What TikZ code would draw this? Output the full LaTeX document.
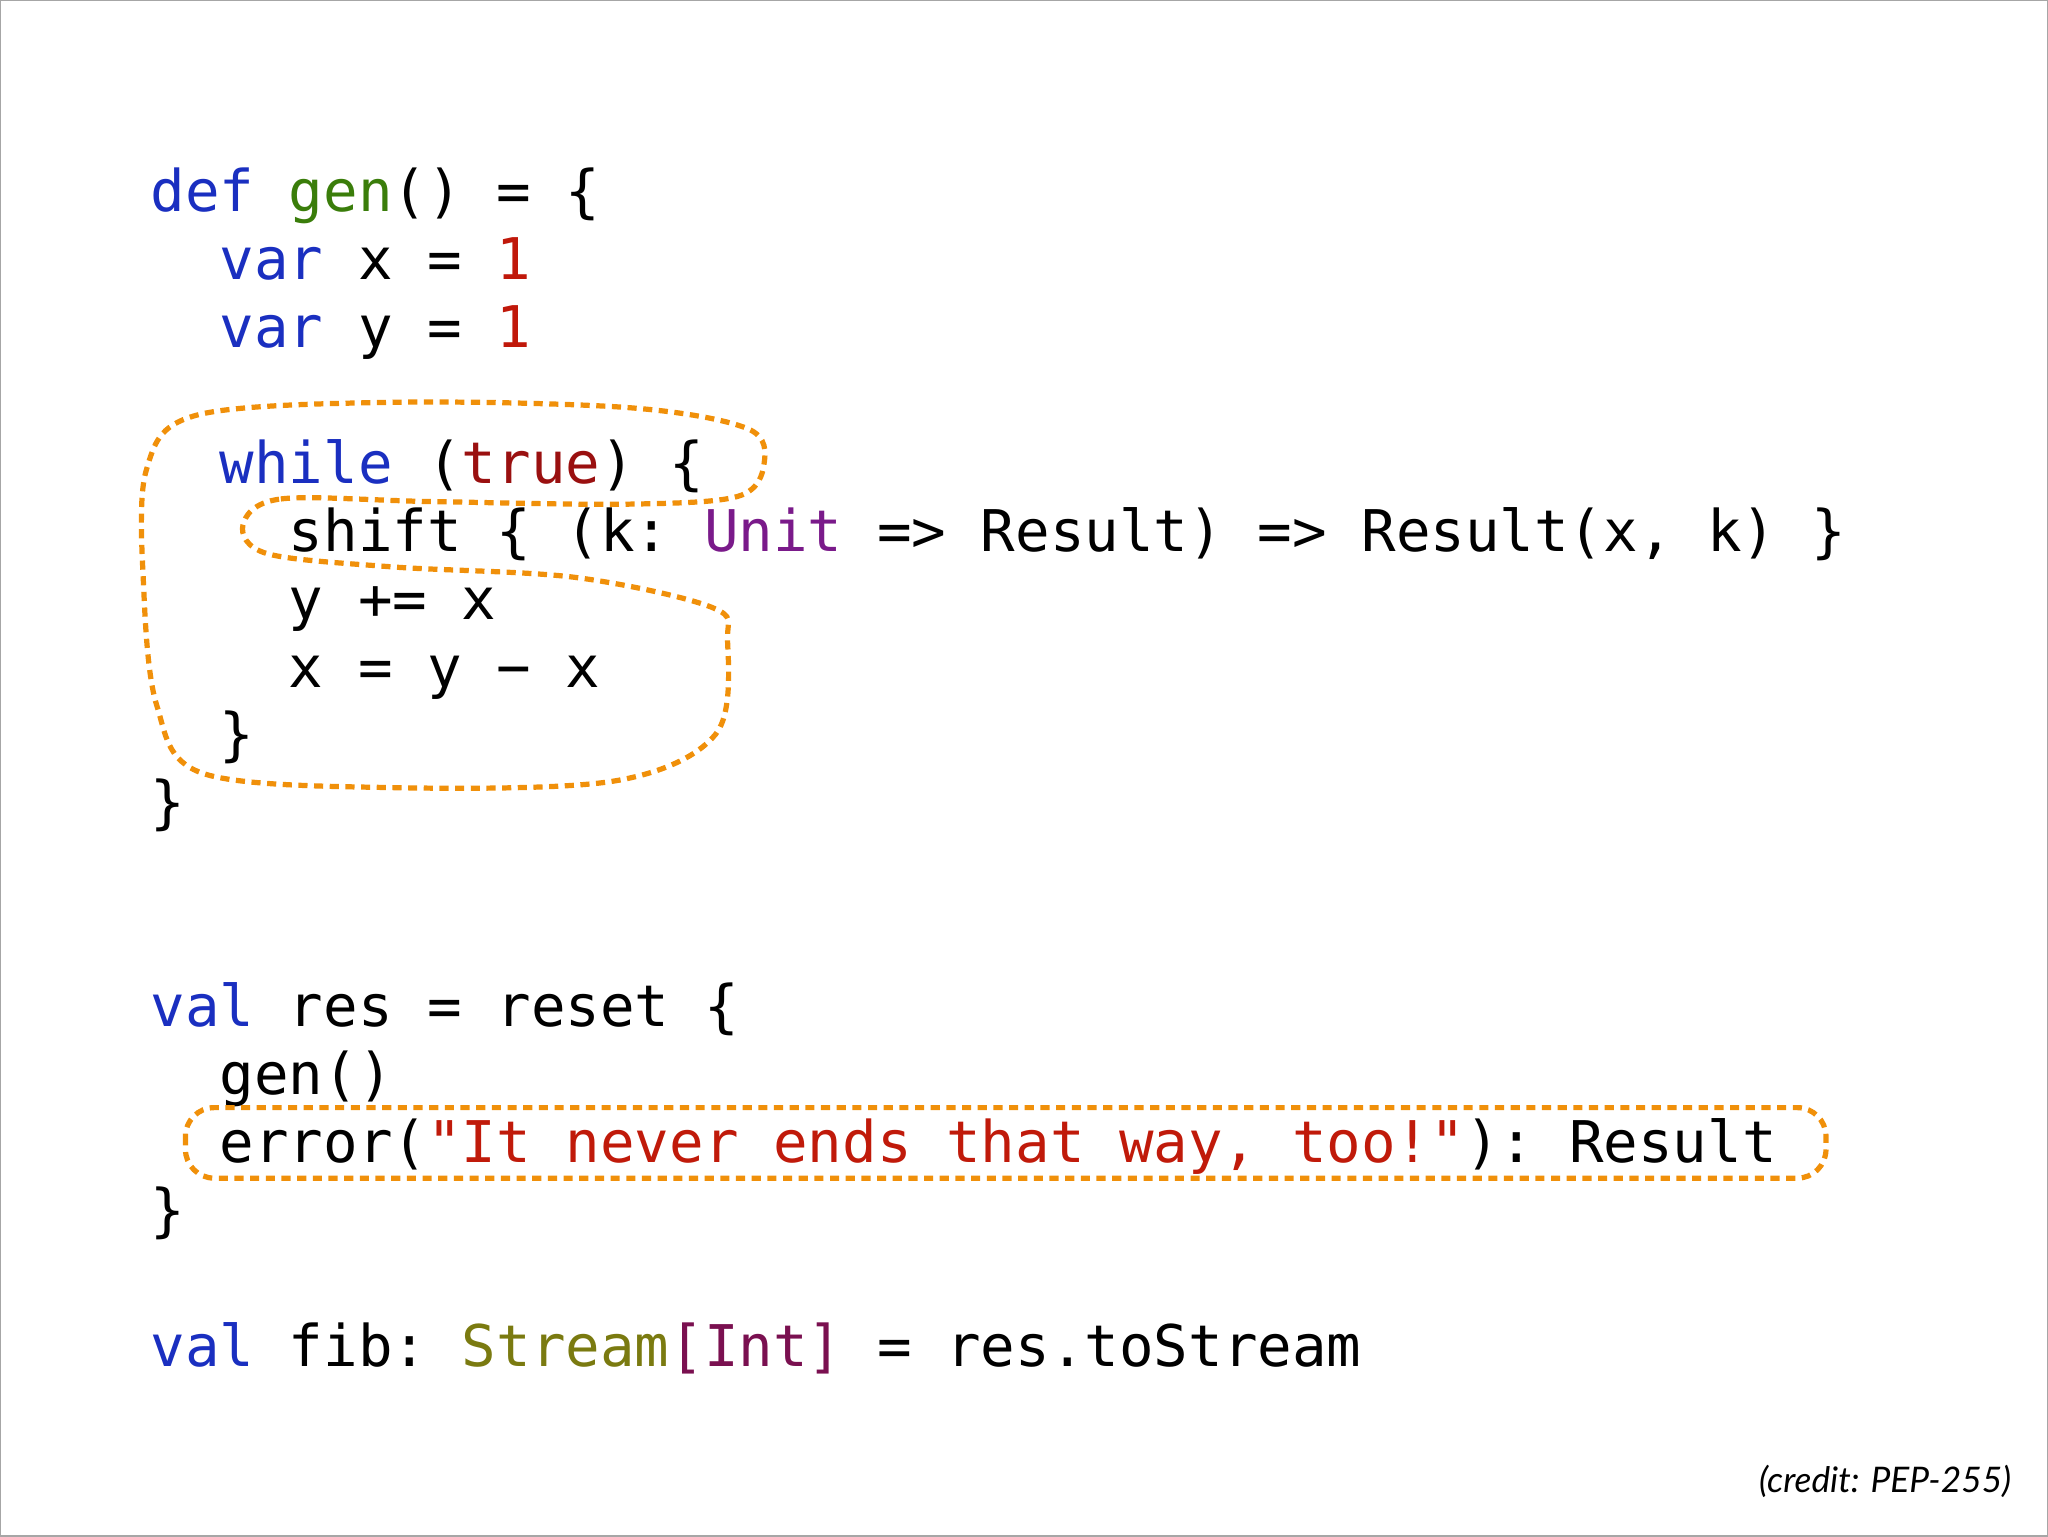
\documentclass[tikz,border=0pt]{standalone}
\usepackage{fontspec}
\setmonofont{DejaVu Sans Mono}
\newfontfamily\creditfont{Lato}
\definecolor{kw}{HTML}{1A2FC0}
\definecolor{fn}{HTML}{3A7D0A}
\definecolor{num}{HTML}{C0180A}
\definecolor{tru}{HTML}{9A1010}
\definecolor{typ}{HTML}{7A1A8A}
\definecolor{str}{HTML}{C01A0A}
\definecolor{olv}{HTML}{7A7A10}
\definecolor{mar}{HTML}{7A1050}
\definecolor{orng}{HTML}{F0900A}
\begin{document}
\begin{tikzpicture}[x=1pt,y=-1pt,
  code/.style={anchor=base west,inner sep=0pt,font=\fontsize{44}{52}\selectfont\ttfamily},
  hl/.style={draw=orng,line width=4pt,dash pattern=on 7pt off 5pt}]
\useasboundingbox (0,0) rectangle (1568,1176);
\draw[gray!70,line width=1.5pt] (0,0) rectangle (1568,1176);
\node[code] (l1) at (115,162) {\textcolor{kw}{def} \textcolor{fn}{gen}() = \{};
\node[code] (l2) at (115,214) {\ \ \textcolor{kw}{var} x = \textcolor{num}{1}};
\node[code] (l3) at (115,266) {\ \ \textcolor{kw}{var} y = \textcolor{num}{1}};
\node[code] (l4) at (115,370) {\ \ \textcolor{kw}{while} (\textcolor{tru}{true}) \{};
\node[code] (l5) at (115,422) {\ \ \ \ shift \{ (k: \textcolor{typ}{Unit} => Result) => Result(x, k) \}};
\node[code] (l6) at (115,474) {\ \ \ \ y += x};
\node[code] (l7) at (115,526) {\ \ \ \ x = y − x};
\node[code] (l8) at (115,578) {\ \ \}};
\node[code] (l9) at (115,630) {\}};
\node[code] (m1) at (115,786) {\textcolor{kw}{val} res = reset \{};
\node[code] (m2) at (115,838) {\ \ gen()};
\node[code] (m3) at (115,890) {\ \ error(\textcolor{str}{"It never ends that way, too!"}): Result};
\node[code] (m4) at (115,942) {\}};
\node[code] (f1) at (115,1046) {\textcolor{kw}{val} fib: \textcolor{olv}{Stream}\textcolor{mar}{[Int]} = res.toStream};
\node[anchor=base east,inner sep=0pt,font=\fontsize{27}{30}\selectfont\creditfont\itshape] (cr) at (1540,1143) {(credit: PEP-255)};
\draw[hl] plot[smooth cycle,tension=0.55] coordinates {
 (186,402) (215,382) (330,384) (480,386) (565,380) (585,355) (572,328)
 (480,312) (300,308) (150,318) (112,360) (110,450) (120,540) (155,592)
 (300,603) (470,598) (548,562) (557,490) (545,465) (440,442) (300,434) (205,424)};
\draw[hl,rounded corners=22pt] (142,848) rectangle (1398,902);
\end{tikzpicture}
\end{document}
